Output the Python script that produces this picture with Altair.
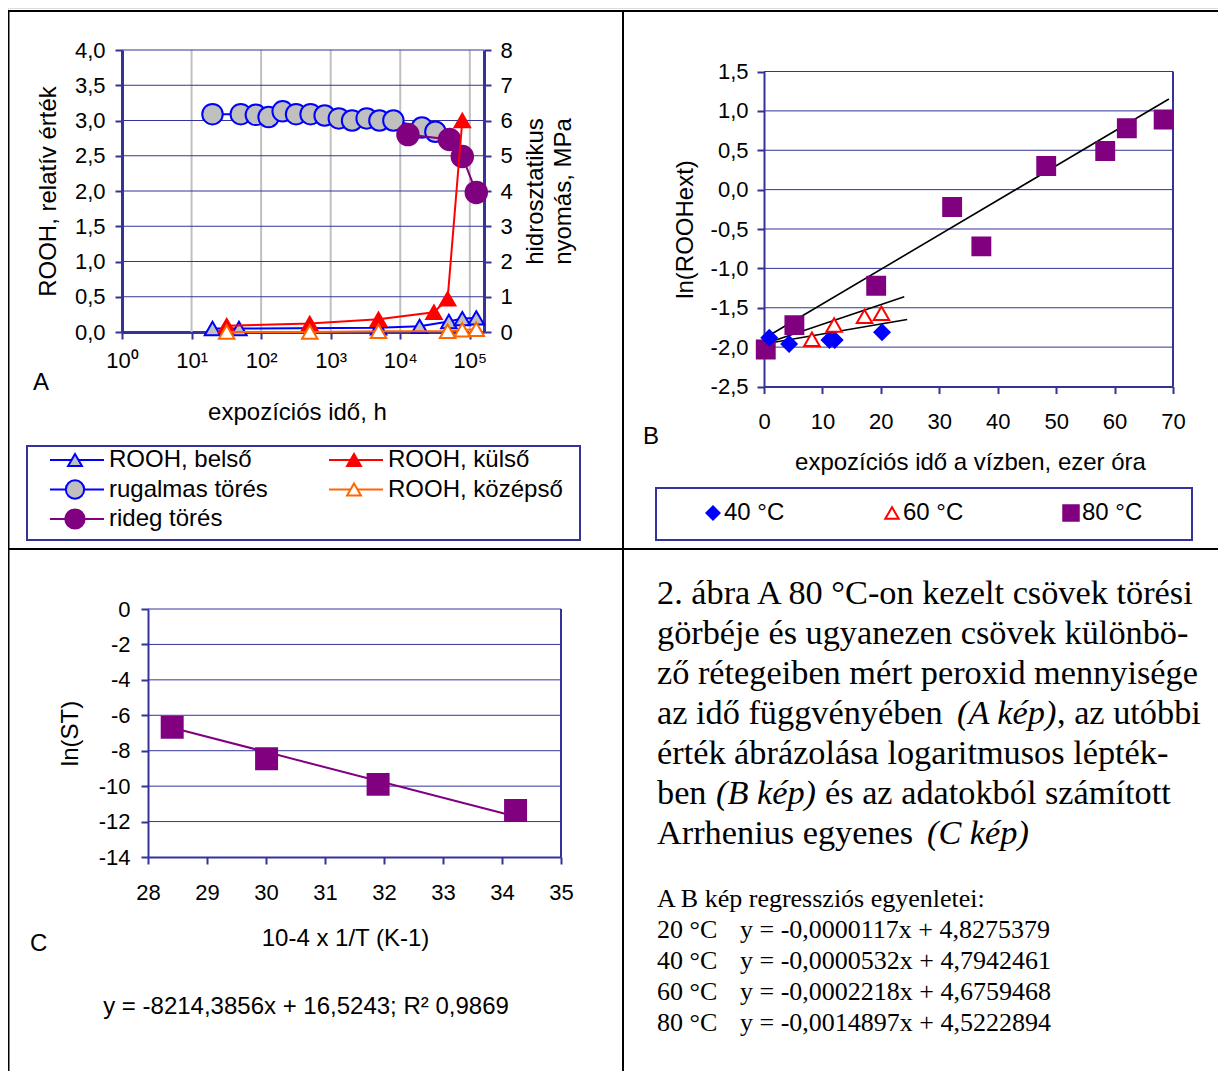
import altair as alt
import pandas as pd

# ===================== Panel A =====================
A_belso_t = [20, 48, 4870, 19000, 50000, 78000, 124000]
A_belso_v = [0.05, 0.05, 0.06, 0.08, 0.15, 0.19, 0.20]
A_kulso_t = [32, 500, 4870, 30500, 48000, 78000]
A_kulso_v = [0.09, 0.12, 0.18, 0.28, 0.47, 3.00]
A_kozepso_t = [32, 500, 4870, 48000, 78000, 124000]
A_kozepso_v = [0.00, 0.00, 0.01, 0.01, 0.03, 0.04]
A_rugalmas_t = [20, 51, 84, 128, 204, 318, 514, 819, 1310, 2030, 3290, 5020, 7970, 20500, 32000]
A_rugalmas_p = [6.18, 6.18, 6.16, 6.10, 6.26, 6.18, 6.18, 6.14, 6.06, 6.00, 6.06, 6.00, 6.00, 5.80, 5.68]
A_rideg_t = [12900, 51000, 78000, 124000]
A_rideg_p = [5.60, 5.46, 4.98, 3.96]
A_x_ticks = [1, 10, 100, 1000, 10000, 100000]
A_x_labels = ["10⁰", "10¹", "10²", "10³", "10⁴", "10⁵"]
A_y_ticks = [0.0, 0.5, 1.0, 1.5, 2.0, 2.5, 3.0, 3.5, 4.0]
A_y2_ticks = [0, 1, 2, 3, 4, 5, 6, 7, 8]
A_legend = ["ROOH, belső", "ROOH, külső", "rugalmas törés", "ROOH, középső", "rideg törés"]

# ===================== Panel B =====================
B_40_x = [0.9, 4.3, 11.2, 12.1, 20.2]
B_40_y = [-1.88, -1.96, -1.91, -1.91, -1.81]
B_60_x = [8.2, 12.0, 17.2, 20.1]
B_60_y = [-1.90, -1.72, -1.61, -1.57]
B_80_x = [0.3, 5.2, 19.2, 32.2, 37.2, 48.3, 58.4, 62.1, 68.4]
B_80_y = [-2.03, -1.72, -1.22, -0.22, -0.72, 0.30, 0.49, 0.78, 0.89]
B_fit40_x = [0, 24.5]
B_fit40_y = [-1.96, -1.65]
B_fit60_x = [0, 24.0]
B_fit60_y = [-1.96, -1.36]
B_fit80_x = [0, 69.3]
B_fit80_y = [-1.89, 1.15]
B_x_ticks = [0, 10, 20, 30, 40, 50, 60, 70]
B_y_ticks = [-2.5, -2.0, -1.5, -1.0, -0.5, 0.0, 0.5, 1.0, 1.5]
B_legend = ["40 °C", "60 °C", "80 °C"]

# ===================== Panel C =====================
C_x = [28.41, 30.01, 31.90, 34.23]
C_y = [-6.67, -8.45, -9.90, -11.38]
C_fit_x = [28.41, 34.10]
C_fit_y = [-6.70, -11.60]
C_x_ticks = [28, 29, 30, 31, 32, 33, 34, 35]
C_y_ticks = [-14, -12, -10, -8, -6, -4, -2, 0]

# ===================== Texts =====================
caption_lines = [
    "2. ábra A 80 °C-on kezelt csövek törési",
    "görbéje és ugyanezen csövek különbö-",
    "ző rétegeiben mért peroxid mennyisége",
    "az idő függvényében",
    "érték ábrázolása logaritmusos lépték-",
    "ben",
    "Arrhenius egyenes",
]
reg_head = "A B kép regressziós egyenletei:"
reg_temps = ["20 °C", "40 °C", "60 °C", "80 °C"]
reg_eqs = [
    "y = -0,0000117x + 4,8275379",
    "y = -0,0000532x + 4,7942461",
    "y = -0,0002218x + 4,6759468",
    "y = -0,0014897x + 4,5222894",
]
C_equation = "y = -8214,3856x + 16,5243; R² 0,9869"

# ===================== Layout / style =====================
W, H = 1210, 1063
NAVY = "#333399"
SANS = "Liberation Sans"
SERIF = "Liberation Serif"
ONE = pd.DataFrame({"k": [0]})
TS = 24  # title / legend font size

XA = alt.Scale(type="log", domain=[1, 160000], range=[114, 476], nice=False)
YA = alt.Scale(domain=[0, 4], range=[324, 42], nice=False, zero=False)
YA2 = alt.Scale(domain=[0, 8], range=[324, 42], nice=False, zero=False)
XB = alt.Scale(domain=[0, 70], range=[756, 1165], nice=False, zero=False)
YB = alt.Scale(domain=[-2.5, 1.5], range=[378.5, 63.5], nice=False, zero=False)
XC = alt.Scale(domain=[28, 35], range=[140, 553], nice=False, zero=False)
YC = alt.Scale(domain=[-14, 0], range=[849, 601], nice=False, zero=False)

STY_A = {
    "belso": dict(line="#0000ff", shape="triangle-up", fill="#c0c0c0", stroke="#0000ff", size=240),
    "kulso": dict(line="#ff0000", shape="triangle-up", fill="#ff0000", stroke="#ff0000", size=240),
    "rugalmas": dict(line="#0000ff", shape="circle", fill="#c0c0c0", stroke="#0000ff", size=420),
    "kozepso": dict(line="#ff6600", shape="triangle-up", fill="#ffffff", stroke="#ff6600", size=240),
    "rideg": dict(line="#800080", shape="circle", fill="#800080", stroke="#800080", size=460),
}

comma1 = "(datum.value < 0 ? '-' : '') + replace(format(abs(datum.value), '.1f'), '.', ',')"
intlab = "(datum.value < 0 ? '-' : '') + format(abs(datum.value), 'd')"
loglab = "[" + ",".join("'%s'" % s for s in A_x_labels) + "][round(log(datum.value)/LN10)]"

L = []

def rule_v(x, y0, y1, color="black", w=2):
    return alt.Chart(ONE).mark_rule(color=color, strokeWidth=w).encode(
        x=alt.value(x), y=alt.value(y0), y2=alt.value(y1))

def rule_h(y, x0, x1, color="black", w=2):
    return alt.Chart(ONE).mark_rule(color=color, strokeWidth=w).encode(
        y=alt.value(y), x=alt.value(x0), x2=alt.value(x1))

def txt(s, x, y, size=TS, font=SANS, align="left", baseline="middle", style="normal", lh=None):
    kw = dict(text=s, font=font, fontSize=size, align=align, baseline=baseline,
              fontStyle=style, color="black")
    if lh is not None:
        kw["lineHeight"] = lh
    return alt.Chart(ONE).mark_text(**kw).encode(x=alt.value(x), y=alt.value(y))

def series(xs, ys, xsc, ysc, sty, line=True, yaxis=None):
    df = pd.DataFrame({"x": xs, "y": ys})
    enc = dict(x=alt.X("x:Q", scale=xsc, axis=None), y=alt.Y("y:Q", scale=ysc, axis=yaxis))
    out = []
    if line:
        out.append(alt.Chart(df).mark_line(color=sty["line"], strokeWidth=2).encode(**enc))
        enc = dict(x=alt.X("x:Q", scale=xsc, axis=None), y=alt.Y("y:Q", scale=ysc, axis=None))
    out.append(alt.Chart(df).mark_point(shape=sty["shape"], filled=True, fill=sty["fill"],
                                        stroke=sty["stroke"], strokeWidth=2, size=sty["size"],
                                        opacity=1).encode(**enc))
    return out

# ---------- frame ----------
L.append(rule_h(3, 0, W))
L.append(rule_v(0.5, 3, H))
L.append(rule_v(615, 3, H))
L.append(rule_h(541, 0, W))

# ---------- Panel A grid and axes ----------
gav = pd.DataFrame({"t": A_x_ticks[1:], "y0": 0, "y1": 4})
L.append(alt.Chart(gav).mark_rule(color="#c0c0c0", strokeWidth=2).encode(
    x=alt.X("t:Q", scale=XA, axis=None),
    y=alt.Y("y0:Q", scale=YA, axis=None), y2="y1:Q"))
gah = pd.DataFrame({"v": A_y_ticks[1:], "x0": 1, "x1": 160000})
L.append(alt.Chart(gah).mark_rule(color=NAVY, strokeWidth=1).encode(
    y=alt.Y("v:Q", scale=YA, axis=alt.Axis(
        orient="left", offset=-114, values=A_y_ticks, labelExpr=comma1, domainWidth=3,
        title="ROOH, relatív érték", titleX=-74, titleY=183, titleAngle=270,
        titleAlign="center", titleBaseline="middle", labelPadding=10)),
    x=alt.X("x0:Q", scale=XA, axis=alt.Axis(
        orient="bottom", offset=-(H - 324), values=A_x_ticks, labelExpr=loglab, domainWidth=3,
        title="expozíciós idő, h", titleX=289, titleY=80,
        titleAlign="center", titleBaseline="middle", labelPadding=11)),
    x2="x1:Q"))

# ---------- Panel A series ----------
right_axis = alt.Axis(orient="right", offset=-(W - 476), values=A_y2_ticks, domainWidth=3,
                      title=["hidrosztatikus", "nyomás, MPa"], titleX=51, titleY=183,
                      titleAngle=270, titleAlign="center", titleBaseline="middle",
                      titleLineHeight=28, labelPadding=9)
L += series(A_rugalmas_t, A_rugalmas_p, XA, YA2, STY_A["rugalmas"], yaxis=right_axis)
L += series(A_rideg_t, A_rideg_p, XA, YA2, STY_A["rideg"])
L += series(A_belso_t, A_belso_v, XA, YA, STY_A["belso"])
L += series(A_kulso_t, A_kulso_v, XA, YA, STY_A["kulso"])
L += series(A_kozepso_t, A_kozepso_v, XA, YA, STY_A["kozepso"])

# ---------- Legend A ----------
L.append(alt.Chart(ONE).mark_rect(fill="white", stroke=NAVY, strokeWidth=2).encode(
    x=alt.value(19), x2=alt.value(572), y=alt.value(438), y2=alt.value(532)))
LAX = alt.Scale(domain=[0, 1], range=[67, 346])
LAY = alt.Scale(domain=[0, 2], range=[452, 511])
for i, key in enumerate(["belso", "kulso", "rugalmas", "kozepso", "rideg"]):
    s = STY_A[key]
    d = pd.DataFrame({"c": [i % 2], "r": [i // 2], "lab": [A_legend[i]]})
    enc = dict(x=alt.X("c:Q", scale=LAX, axis=None), y=alt.Y("r:Q", scale=LAY, axis=None))
    L.append(alt.Chart(d).mark_rule(color=s["line"], strokeWidth=2, xOffset=-25, x2Offset=29)
             .encode(x2="c:Q", **enc))
    L.append(alt.Chart(d).mark_point(shape=s["shape"], filled=True, fill=s["fill"], stroke=s["stroke"],
                                     strokeWidth=2, size=s["size"] * 0.8, opacity=1).encode(**enc))
    L.append(alt.Chart(d).mark_text(align="left", baseline="middle", dx=34, font=SANS, fontSize=TS,
                                    color="black").encode(text="lab:N", **enc))

# ---------- Panel B ----------
gbh = pd.DataFrame({"v": B_y_ticks[1:], "x0": 0, "x1": 70})
L.append(alt.Chart(gbh).mark_rule(color=NAVY, strokeWidth=1).encode(
    y=alt.Y("v:Q", scale=YB, axis=alt.Axis(
        orient="left", offset=-756, values=B_y_ticks, labelExpr=comma1,
        title="ln(ROOHext)", titleX=-79, titleY=221, titleAngle=270,
        titleAlign="center", titleBaseline="middle", labelPadding=9)),
    x=alt.X("x0:Q", scale=XB, axis=alt.Axis(
        orient="bottom", offset=-(H - 378.5), values=B_x_ticks, format="d",
        title="expozíciós idő a vízben, ezer óra", titleX=962, titleY=75.5,
        titleAlign="center", titleBaseline="middle", labelPadding=18)),
    x2="x1:Q"))
gbr = pd.DataFrame({"x": [70], "y0": [-2.5], "y1": [1.5]})
L.append(alt.Chart(gbr).mark_rule(color=NAVY, strokeWidth=2).encode(
    x=alt.X("x:Q", scale=XB, axis=None), y=alt.Y("y0:Q", scale=YB, axis=None), y2="y1:Q"))
for fx, fy in [(B_fit80_x, B_fit80_y), (B_fit60_x, B_fit60_y), (B_fit40_x, B_fit40_y)]:
    L.append(alt.Chart(pd.DataFrame({"x": fx, "y": fy})).mark_line(color="black", strokeWidth=1.6).encode(
        x=alt.X("x:Q", scale=XB, axis=None), y=alt.Y("y:Q", scale=YB, axis=None)))
STY_B = {
    "40": dict(line="#0000ff", shape="diamond", fill="#0000ff", stroke="#0000ff", size=230),
    "60": dict(line="#ff0000", shape="triangle-up", fill="#ffffff", stroke="#ff0000", size=240),
    "80": dict(line="#800080", shape="square", fill="#800080", stroke="#800080", size=320),
}
L += series(B_80_x, B_80_y, XB, YB, STY_B["80"], line=False)
L += series(B_40_x, B_40_y, XB, YB, STY_B["40"], line=False)
L += series(B_60_x, B_60_y, XB, YB, STY_B["60"], line=False)

# ---------- Legend B ----------
L.append(alt.Chart(ONE).mark_rect(fill="white", stroke=NAVY, strokeWidth=2).encode(
    x=alt.value(648), x2=alt.value(1184), y=alt.value(480), y2=alt.value(532)))
LBX = alt.Scale(domain=[0, 2], range=[705, 1063])
for i, key in enumerate(["40", "60", "80"]):
    s = STY_B[key]
    d = pd.DataFrame({"c": [i], "lab": [B_legend[i]]})
    enc = dict(x=alt.X("c:Q", scale=LBX, axis=None), y=alt.value(505))
    L.append(alt.Chart(d).mark_point(shape=s["shape"], filled=True, fill=s["fill"], stroke=s["stroke"],
                                     strokeWidth=2, size=s["size"] * 0.75, opacity=1).encode(**enc))
    L.append(alt.Chart(d).mark_text(align="left", baseline="middle", dx=11, font=SANS, fontSize=TS,
                                    color="black").encode(text="lab:N", **enc))

# ---------- Panel C ----------
gch = pd.DataFrame({"v": C_y_ticks[1:], "x0": 28, "x1": 35})
L.append(alt.Chart(gch).mark_rule(color=NAVY, strokeWidth=1).encode(
    y=alt.Y("v:Q", scale=YC, axis=alt.Axis(
        orient="left", offset=-140, values=C_y_ticks, labelExpr=intlab,
        title="ln(ST)", titleX=-78, titleY=725, titleAngle=270,
        titleAlign="center", titleBaseline="middle", labelPadding=11)),
    x=alt.X("x0:Q", scale=XC, axis=alt.Axis(
        orient="bottom", offset=-(H - 849), values=C_x_ticks, format="d",
        title="10-4 x 1/T (K-1)", titleX=337, titleY=81,
        titleAlign="center", titleBaseline="middle", labelPadding=18)),
    x2="x1:Q"))
gcr = pd.DataFrame({"x": [35], "y0": [-14], "y1": [0]})
L.append(alt.Chart(gcr).mark_rule(color=NAVY, strokeWidth=2).encode(
    x=alt.X("x:Q", scale=XC, axis=None), y=alt.Y("y0:Q", scale=YC, axis=None), y2="y1:Q"))
L.append(alt.Chart(pd.DataFrame({"x": C_fit_x, "y": C_fit_y})).mark_line(color="#800080", strokeWidth=2).encode(
    x=alt.X("x:Q", scale=XC, axis=None), y=alt.Y("y:Q", scale=YC, axis=None)))
L += series(C_x, C_y, XC, YC, dict(line="#800080", shape="square", fill="#800080",
                                   stroke="#800080", size=440), line=False)

# ---------- texts ----------
CS = 34.3
L.append(txt("A", 25, 375))
L.append(txt("B", 635, 429))
L.append(txt("C", 22, 936))
L.append(txt(C_equation, 298, 999, align="center"))
L.append(txt(caption_lines, 649, 596, size=CS, font=SERIF, baseline="alphabetic", lh=40))
L.append(txt("(A kép)", 949, 716, size=CS, font=SERIF, baseline="alphabetic", style="italic"))
L.append(txt(", az utóbbi", 1049, 716, size=CS, font=SERIF, baseline="alphabetic"))
L.append(txt("(B kép)", 708, 796, size=CS, font=SERIF, baseline="alphabetic", style="italic"))
L.append(txt("és az adatokból számított", 817, 796, size=CS, font=SERIF, baseline="alphabetic"))
L.append(txt("(C kép)", 919, 836, size=CS, font=SERIF, baseline="alphabetic", style="italic"))
L.append(txt([reg_head] + reg_temps, 649, 899, size=26, font=SERIF, baseline="alphabetic", lh=31))
L.append(txt(reg_eqs, 732, 930, size=26, font=SERIF, baseline="alphabetic", lh=31))

chart = alt.layer(*L).resolve_scale(x="independent", y="independent").properties(
    width=W, height=H, padding=0, autosize=alt.AutoSizeParams(type="none")
).configure_view(stroke="transparent").configure(background="white").configure_axis(
    labelFont=SANS, labelFontSize=22, labelColor="black",
    titleFont=SANS, titleFontSize=TS, titleFontWeight="normal", titleColor="black",
    domainColor=NAVY, domainWidth=2, tickColor=NAVY, tickWidth=2, tickSize=7,
    grid=False, labelFlush=False, labelOverlap=False, labelBound=False,
)

chart.save("out.html", embed_options={"renderer": "svg", "actions": False})
